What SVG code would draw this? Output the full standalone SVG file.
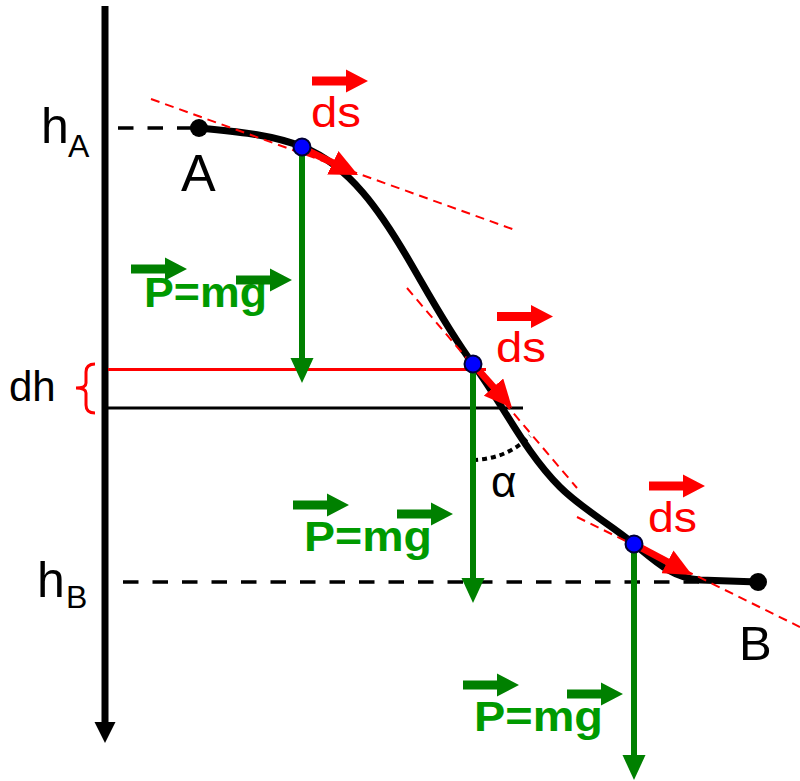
<svg xmlns="http://www.w3.org/2000/svg" xmlns:xlink="http://www.w3.org/1999/xlink" width="800" height="781" viewBox="0 0 800 781">
<style>
  text { font-family: "Liberation Sans", Arial, sans-serif; }
  .lbl { fill: #000; }
  .red { fill: #ff0000; }
  .grn { fill: #009a00; font-weight: bold; }
  .dash { stroke: #000; stroke-width: 3.5; stroke-dasharray: 15.5 14; fill: none; }
  .tan { stroke: #ff0000; stroke-width: 2; stroke-dasharray: 9 6; fill: none; }
  .gline { stroke: #008000; stroke-width: 6; fill: none; }
  .rline { stroke: #ff0000; stroke-width: 7; fill: none; }
  .dot { fill: #0000ff; stroke: #000033; stroke-width: 2; }
</style>
<defs>
  <path id="vec" d="M-56,-4.5 H-22 V-11.5 L0,0 L-22,11.5 V4.5 H-56 Z"/>
  <marker id="rh" viewBox="0 0 28 26" refX="5" refY="13" markerWidth="28" markerHeight="26" markerUnits="userSpaceOnUse" orient="auto">
    <path d="M0,0 L28,13 L0,26 Z" fill="#ff0000"/>
  </marker>
</defs>
<rect width="800" height="781" fill="#ffffff"/>

<g id="axis">
  <line x1="105" y1="6" x2="105" y2="726" stroke="#000" stroke-width="7"/>
  <polygon points="94.5,722 115.5,722 105,743" fill="#000"/>
  <text class="lbl" x="41" y="143" font-size="50">h</text>
  <text class="lbl" x="68" y="157" font-size="32">A</text>
  <text class="lbl" x="37" y="597" font-size="50">h</text>
  <text class="lbl" x="66" y="608" font-size="32">B</text>
</g>

<g id="levels">
  <line class="dash" x1="118" y1="128" x2="196" y2="128"/>
  <line class="dash" x1="123" y1="582" x2="700" y2="582"/>
</g>

<g id="dh">
  <line x1="108" y1="369.5" x2="486" y2="369.5" stroke="#ff0000" stroke-width="3"/>
  <line x1="108" y1="408" x2="523" y2="408" stroke="#000" stroke-width="3"/>
  <path d="M95,364 Q86,364 86,372 L86,383 Q86,388 76,388 Q86,388 86,393 L86,405 Q86,413 95,413" fill="none" stroke="#ff0000" stroke-width="3"/>
  <text class="lbl" x="9" y="401" font-size="42">dh</text>
</g>

<g id="curve">
  <path d="M199,128 C233.8,131.5 270.5,134 303,147 C349.9,165.7 381.4,213.5 407,257 C428.2,293.1 448.1,330.4 473,364 C502.9,404.3 524.5,451.5 560,487 C582,509 610.2,524 634,544 C656,562 672,578 700,580 L758,582" fill="none" stroke="#000" stroke-width="7" stroke-linejoin="round"/>
</g>

<g id="tangents">
  <line class="tan" x1="151" y1="99" x2="515" y2="230"/>
  <line class="tan" x1="407" y1="288" x2="577" y2="488"/>
  <line class="tan" x1="577" y1="517" x2="800" y2="627"/>
</g>

<g id="angle-alpha">
  <path d="M473,460 Q507,459 530,436" fill="none" stroke="#000" stroke-width="4" stroke-dasharray="5 4"/>
  <text class="lbl" x="491" y="497" font-size="44">α</text>
</g>

<g id="point-A">
  <circle cx="199" cy="128" r="9" fill="#000"/>
  <text class="lbl" x="181" y="191" font-size="52">A</text>
</g>
<g id="point-B">
  <circle cx="758" cy="582" r="9" fill="#000"/>
  <text class="lbl" x="739" y="660" font-size="49">B</text>
</g>

<g id="connectors">
  <line class="gline" x1="302" y1="150" x2="302" y2="360"/>
  <polygon points="290.5,358 313.5,358 302,383" fill="#008000"/>
  <line class="gline" x1="473" y1="368" x2="473" y2="580"/>
  <polygon points="461.5,578 484.5,578 473,603" fill="#008000"/>
  <line class="gline" x1="634" y1="548" x2="634" y2="757"/>
  <polygon points="622.5,755 645.5,755 634,780" fill="#008000"/>
  <line class="rline" x1="302" y1="148" x2="337.3" y2="165" marker-end="url(#rh)"/>
  <line class="rline" x1="473" y1="364" x2="496.8" y2="390.8" marker-end="url(#rh)"/>
  <line class="rline" x1="634" y1="544" x2="671.8" y2="564.2" marker-end="url(#rh)"/>
</g>

<g id="particle-1">
  <circle class="dot" cx="302" cy="147" r="8.5"/>
  <use xlink:href="#vec" href="#vec" transform="translate(368,81)" fill="#ff0000"/>
  <text class="red" x="311" y="127" font-size="43" textLength="50" lengthAdjust="spacingAndGlyphs">ds</text>
  <text class="grn" x="144" y="307" font-size="42" textLength="123" lengthAdjust="spacingAndGlyphs">P=mg</text>
  <use xlink:href="#vec" href="#vec" transform="translate(187,269)" fill="#008000"/>
  <use xlink:href="#vec" href="#vec" transform="translate(292,280)" fill="#008000"/>
</g>

<g id="particle-2">
  <circle class="dot" cx="473" cy="364" r="8.5"/>
  <use xlink:href="#vec" href="#vec" transform="translate(553,316.5)" fill="#ff0000"/>
  <text class="red" x="496" y="362" font-size="43" textLength="50" lengthAdjust="spacingAndGlyphs">ds</text>
  <text class="grn" x="304" y="551" font-size="42" textLength="128" lengthAdjust="spacingAndGlyphs">P=mg</text>
  <use xlink:href="#vec" href="#vec" transform="translate(349,505)" fill="#008000"/>
  <use xlink:href="#vec" href="#vec" transform="translate(453,514)" fill="#008000"/>
</g>

<g id="particle-3">
  <circle class="dot" cx="634" cy="544" r="8.5"/>
  <use xlink:href="#vec" href="#vec" transform="translate(705,486)" fill="#ff0000"/>
  <text class="red" x="648" y="532" font-size="43" textLength="49" lengthAdjust="spacingAndGlyphs">ds</text>
  <text class="grn" x="474" y="731" font-size="42" textLength="129" lengthAdjust="spacingAndGlyphs">P=mg</text>
  <use xlink:href="#vec" href="#vec" transform="translate(519,685)" fill="#008000"/>
  <use xlink:href="#vec" href="#vec" transform="translate(623,694)" fill="#008000"/>
</g>
</svg>
